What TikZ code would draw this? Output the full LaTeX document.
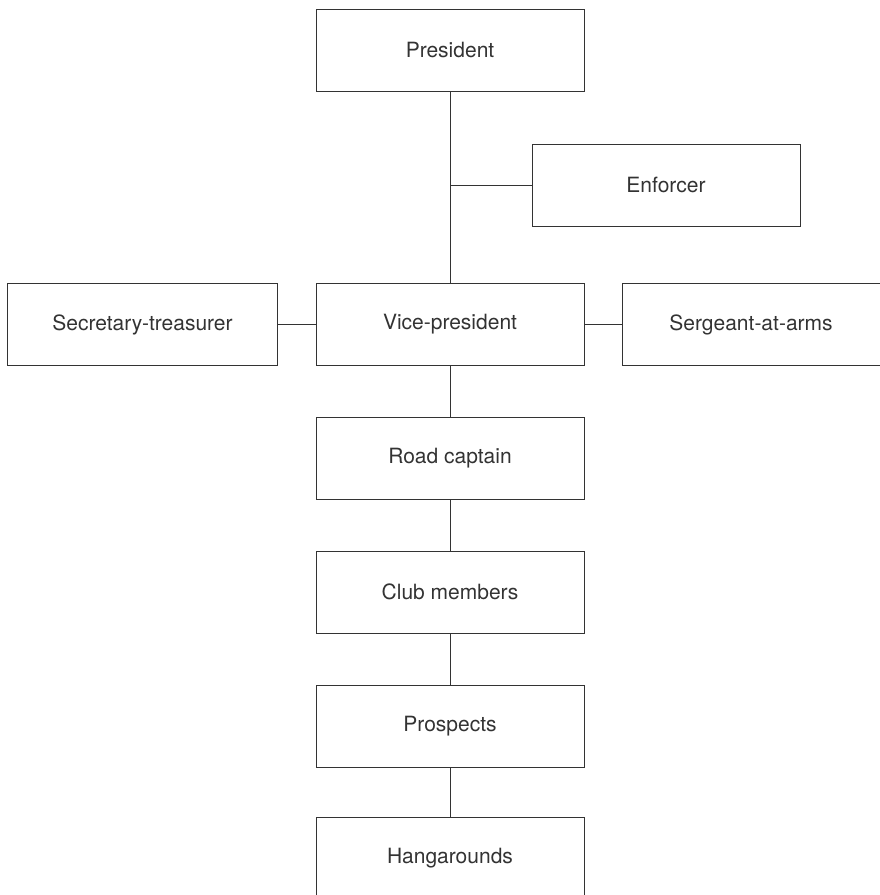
\documentclass[tikz,border=0pt]{standalone}
\usepackage{fontspec}
\setmainfont{TeX Gyre Heros}
\begin{document}
\begin{tikzpicture}[x=1pt,y=-1pt,
  rank/.style={draw=black!80,line width=0.9pt,minimum width=268pt,minimum height=82pt,
    inner sep=0pt,font=\fontsize{21}{24}\selectfont,text=black!80},
  link/.style={draw=black!80,line width=0.9pt}]
  \useasboundingbox (0,0) rectangle (880,895);
  % central chain of command
  \node[rank] (pres)  at (450,50)    {President};
  \node[rank] (enf)   at (666,185)   {Enforcer};
  \node[rank] (vp)    at (450,324.5) {Vice-president};
  \node[rank,minimum width=270pt] (sec) at (142.5,324.5) {Secretary-treasurer};
  \node[rank,minimum width=258pt] (sgt) at (751,324.5) {Sergeant-at-arms};
  \node[rank] (road)  at (450,458)   {Road captain};
  \node[rank] (club)  at (450,592)   {Club members};
  \node[rank] (pros)  at (450,726)   {Prospects};
  \node[rank] (hang)  at (450,858)   {Hangarounds};
  \coordinate (tap) at (pres.south |- enf.west);
  \draw[link] (pres.south) -- (vp.north);
  \draw[link] (tap) -- (enf.west);
  \draw[link] (sec.east) -- (vp.west);
  \draw[link] (vp.east) -- (sgt.west);
  \draw[link] (vp.south) -- (road.north);
  \draw[link] (road.south) -- (club.north);
  \draw[link] (club.south) -- (pros.north);
  \draw[link] (pros.south) -- (hang.north);
\end{tikzpicture}
\end{document}
